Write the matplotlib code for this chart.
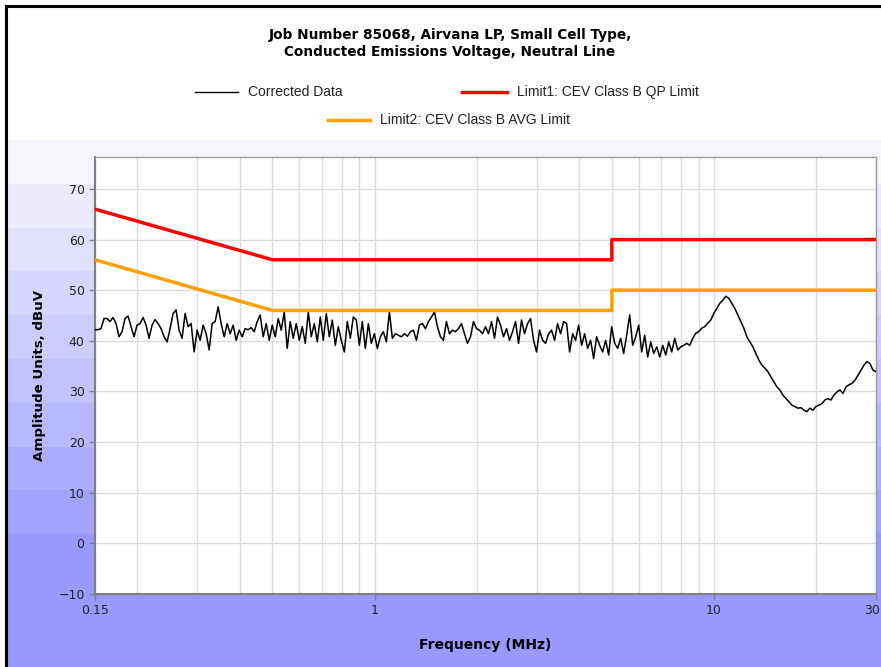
import numpy as np
import matplotlib
matplotlib.use("Agg")
import matplotlib.pyplot as plt
import matplotlib.transforms as mtransforms
from matplotlib.lines import Line2D
from matplotlib.patches import Rectangle
from matplotlib.ticker import FixedLocator, NullFormatter

# corrected data, dBuV, read at evenly spaced columns across the log axis
amp_dbuv = [
    # 0.15 .. ~0.36 MHz
    42.2, 42.2, 42.4, 44.4, 44.4, 43.8, 44.6, 43.4, 40.8, 41.8, 44.4, 44.9,
    42.8, 40.8, 43.1, 43.4, 44.6, 43.1, 40.5, 43.1, 44.2, 43.4, 42.4, 40.8,
    39.8, 42.4, 45.4, 46.1, 42.1, 40.5, 45.4, 42.8, 43.4, 37.8, 42.1, 40.1,
    43.1, 41.4, 38.2, 43.4, 43.8, 46.7, 43.4, 40.8,
    # ~0.36 .. ~0.88 MHz
    43.4, 41.4, 43.1, 40.1, 42.1, 40.8, 42.4, 42.2, 42.6, 41.8, 43.8, 45.1,
    40.8, 43.4, 40.1, 43.1, 40.8, 44.4, 42.1, 45.7, 38.5, 43.8, 40.5, 43.4,
    40.1, 42.8, 39.5, 45.7, 40.8, 43.4, 39.8, 44.7, 40.1, 45.4, 40.8, 44.1,
    39.1, 42.8, 40.1, 37.8, 43.8, 40.5, 44.7,
    # ~0.88 .. ~2.1 MHz
    44.1, 39.1, 43.8, 38.5, 43.4, 39.5, 41.4, 38.5, 40.8, 41.8, 39.8, 45.7,
    40.5, 41.4, 41.1, 40.8, 41.4, 40.9, 41.8, 42.1, 40.1, 43.1, 43.4, 42.4,
    43.8, 44.7, 45.7, 42.8, 40.8, 40.1, 43.8, 41.4, 42.1, 41.8, 42.4, 43.4,
    41.4, 39.5, 40.8, 43.8, 42.4, 42.1, 41.4,
    # ~2.1 .. ~5.2 MHz
    42.8, 41.4, 43.8, 40.5, 44.7, 43.1, 40.8, 42.4, 40.1, 41.8, 43.8, 39.5,
    44.1, 41.4, 43.4, 44.4, 40.1, 37.8, 42.1, 40.1, 39.5, 41.4, 42.1, 40.1,
    43.4, 41.4, 43.8, 43.4, 37.8, 41.4, 40.1, 43.1, 39.1, 41.4, 38.5, 40.1,
    36.5, 40.8, 39.1, 37.8, 40.1, 37.2, 42.8, 39.5,
    # ~5.2 .. ~12 MHz
    38.5, 40.5, 37.5, 41.1, 45.1, 39.1, 40.8, 43.1, 37.8, 41.1, 36.8, 39.8,
    37.5, 38.8, 36.8, 39.1, 37.2, 39.8, 37.8, 40.5, 38.2, 38.8, 39.1, 39.5,
    39.1, 40.5, 41.5, 41.8, 42.5, 42.8, 43.5, 44.1, 45.4, 46.4, 47.4, 48.0,
    48.8, 48.4, 47.4, 46.4, 45.1, 43.8, 42.5,
    # ~12 .. 30 MHz
    40.8, 39.8, 38.8, 37.5, 36.2, 35.2, 34.6, 33.9, 32.9, 31.9, 30.9, 30.3,
    29.3, 28.6, 28.0, 27.3, 27.0, 26.7, 26.8, 26.3, 26.0, 26.7, 26.3, 27.0,
    27.3, 27.6, 28.3, 28.6, 28.3, 29.3, 29.9, 30.3, 29.6, 30.9, 31.3, 31.6,
    32.2, 33.2, 34.2, 35.2, 35.9, 35.5, 34.2, 33.9,
]
freq_mhz = np.geomspace(0.15, 30, len(amp_dbuv))

qp_freq = [0.15, 0.5, 5, 5, 30]
qp_limit = [66, 56, 56, 60, 60]
avg_freq = [0.15, 0.5, 5, 5, 30]
avg_limit = [56, 46, 46, 50, 50]

W, H = 881, 667
fig = plt.figure(figsize=(W / 100, H / 100), dpi=100)
fig.patch.set_facecolor("white")

# stepped blue background of the chart control
bg = fig.add_axes([0, 0, 1, 1], zorder=0)
bg.set_xlim(0, W)
bg.set_ylim(H, 0)
bg.axis("off")
top_c = np.array([245, 245, 253]) / 255
bot_c = np.array([153, 153, 255]) / 255
n_bands = 10
edges = np.linspace(140, 578, n_bands + 1)
for k in range(n_bands):
    t = k / (n_bands - 1)
    c = top_c * (1 - t) + bot_c * t
    bg.add_patch(Rectangle((6, edges[k]), W, edges[k + 1] - edges[k] + 1,
                           color=c, lw=0))
bg.add_patch(Rectangle((6, 578), W, H - 578, color=bot_c, lw=0))
bg.plot([6, 6], [6, H], color="black", lw=2.2)
bg.plot([6, W], [6, 6], color="black", lw=2.2)

ax = fig.add_axes([95 / W, 1 - 594 / H, 781 / W, 437 / H], zorder=1)
ax.set_facecolor("white")
ax.plot(freq_mhz, amp_dbuv, color="black", lw=1.1, zorder=3)
ax.plot(qp_freq, qp_limit, color="#ff0000", lw=2.5, zorder=4)
ax.plot(avg_freq, avg_limit, color="#ffa000", lw=2.5, zorder=4)

ax.set_xscale("log")
ax.set_xlim(0.15, 30)
ax.set_ylim(-10, 76.3)
ax.xaxis.set_major_locator(FixedLocator([0.15, 1, 10, 30]))
ax.set_xticklabels(["0.15", "1", "10", "30"])
ax.xaxis.set_minor_locator(FixedLocator([0.2, 0.3, 0.4, 0.5, 0.6, 0.7, 0.8, 0.9,
                                         2, 3, 4, 5, 6, 7, 8, 9, 20]))
ax.xaxis.set_minor_formatter(NullFormatter())
ax.set_yticks(range(-10, 71, 10))
ax.grid(True, which="both", color="#dcdcdc", lw=1.0, zorder=0)
ax.set_axisbelow(True)
ax.tick_params(which="major", direction="out", length=4, width=1,
               color="#808080", labelsize=9, labelcolor="#222222")
ax.tick_params(which="minor", length=0)
for side in ["left", "bottom"]:
    ax.spines[side].set_color("#808080")
    ax.spines[side].set_linewidth(1.5)
for side in ["top", "right"]:
    ax.spines[side].set_color("#9a9a9a")
    ax.spines[side].set_linewidth(1.0)

# last label sits at the right edge; keep it inside the picture
last = ax.get_xticklabels()[-1]
last.set_horizontalalignment("right")
last.set_transform(last.get_transform() +
                   mtransforms.ScaledTranslation(4 / 100, 0, fig.dpi_scale_trans))

fig.text(450 / W, 1 - 35 / H, "Job Number 85068, Airvana LP, Small Cell Type,",
         ha="center", va="center", weight="bold", size=9.8)
fig.text(450 / W, 1 - 52 / H, "Conducted Emissions Voltage, Neutral Line",
         ha="center", va="center", weight="bold", size=9.8)

# legend, laid out like the original control
leg_font = dict(family="Liberation Sans", size=10, va="center", ha="left",
                color="#222222")
legend_rows = [
    (195, 238, 92, "black", 1.0, "Corrected Data"),
    (462, 507, 92, "#ff0000", 2.5, "Limit1: CEV Class B QP Limit"),
    (328, 370, 120, "#ffa000", 2.5, "Limit2: CEV Class B AVG Limit"),
]
for x0, x1, y, col, lw, label in legend_rows:
    fig.add_artist(Line2D([x0 / W, x1 / W], [1 - y / H, 1 - y / H],
                          transform=fig.transFigure, color=col, lw=lw))
    fig.text((x1 + 10) / W, 1 - y / H, label, **leg_font)

fig.text(40 / W, 1 - 375 / H, "Amplitude Units, dBuV", rotation=90,
         ha="center", va="center", weight="bold", size=9.6)
fig.text(485 / W, 1 - 645 / H, "Frequency (MHz)",
         ha="center", va="center", weight="bold", size=10)

fig.savefig("out.png", dpi=100)
